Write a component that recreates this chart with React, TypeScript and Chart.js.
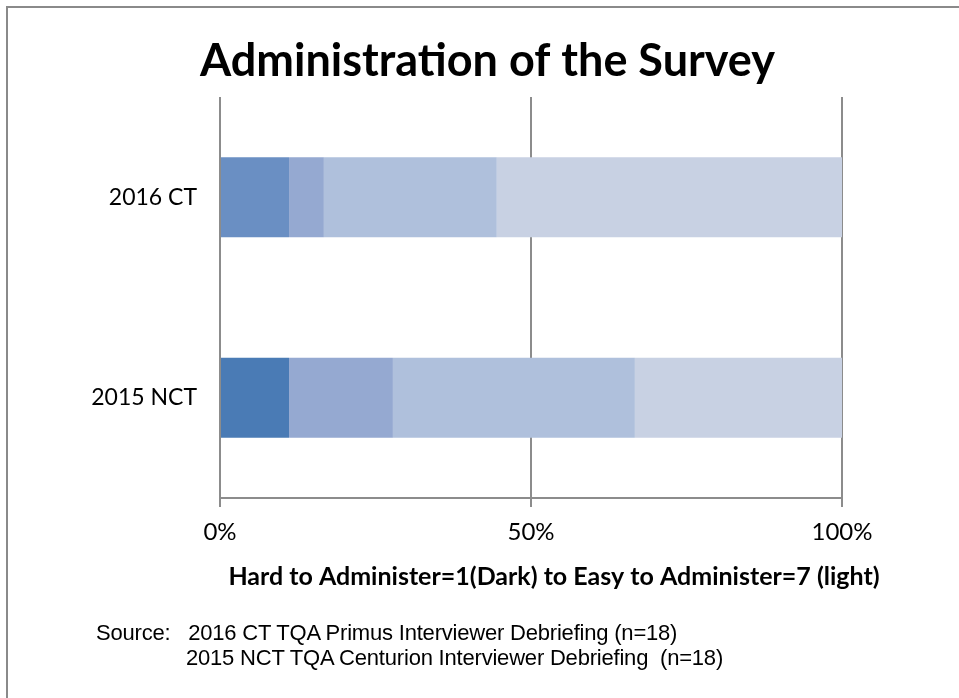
import React, { useEffect, useRef } from 'react';
import { Chart, registerables } from 'chart.js';

Chart.register(...registerables);

// ---- Data (percent of respondents, n=18 each) ----
const categories = ['2016 CT', '2015 NCT'];
const ratingLabels = ['1', '2', '3', '4', '5', '6', '7'];
const rating1 = [null, null];
const rating2 = [null, null];
const rating3 = [null, 11.1];
const rating4 = [11.1, null];
const rating5 = [5.6, 16.7];
const rating6 = [27.8, 38.9];
const rating7 = [55.5, 33.3];
const ratingSeries = [rating1, rating2, rating3, rating4, rating5, rating6, rating7];
const ratingColors = ['#1f4e8c', '#2f63a3', '#4a7bb5', '#6a8fc3', '#95a9d1', '#afc0dc', '#c8d1e3'];
const xTickValues = [0, 50, 100];
const titleText = 'Administration of the Survey';
const axisTitleText = 'Hard to Administer=1(Dark) to Easy to Administer=7 (light)';
const sourceLine1 = 'Source:   2016 CT TQA Primus Interviewer Debriefing (n=18)';
const sourceLine2 = '2015 NCT TQA Centurion Interviewer Debriefing  (n=18)';

const GRID = '#8c8c8c';
const FONT = 'Lato, "Open Sans", sans-serif';

const axisTitlePlugin = {
  id: 'shiftedAxisTitle',
  afterDraw(chart: any, _args: any, opts: any) {
    const { ctx, chartArea } = chart;
    ctx.save();
    ctx.font = opts.font;
    ctx.fillStyle = opts.color;
    ctx.textAlign = 'center';
    ctx.textBaseline = 'middle';
    ctx.fillText(
      opts.text,
      (chartArea.left + chartArea.right) / 2 + opts.offsetX,
      chartArea.bottom + opts.offsetY
    );
    ctx.restore();
  },
};

export default function App() {
  const ref = useRef<HTMLCanvasElement | null>(null);

  useEffect(() => {
    if (!ref.current) return;
    const chart = new Chart(ref.current, {
      type: 'bar',
      data: {
        labels: categories,
        datasets: ratingSeries.map((d, i) => ({
          label: ratingLabels[i],
          data: d as any,
          backgroundColor: ratingColors[i],
          borderWidth: 0,
          categoryPercentage: 1,
          barPercentage: 0.4,
        })),
      },
      plugins: [axisTitlePlugin],
      options: {
        indexAxis: 'y',
        responsive: false,
        animation: false,
        layout: { padding: { left: 16, right: 0, top: 0, bottom: 100 } },
        plugins: {
          legend: { display: false },
          tooltip: { enabled: false },
          title: {
            display: true,
            text: titleText,
            color: '#000',
            font: { family: FONT, size: 45, weight: 'bold', lineHeight: 1.2 },
            padding: { top: 34, bottom: 9 },
          },
          shiftedAxisTitle: {
            text: axisTitleText,
            font: `bold 25px ${FONT}`,
            color: '#000',
            offsetX: 23,
            offsetY: 79,
          },
        } as any,
        scales: {
          x: {
            type: 'linear',
            stacked: true,
            min: 0,
            max: 100,
            afterBuildTicks: (scale: any) => {
              scale.ticks = xTickValues.map((v) => ({ value: v }));
            },
            afterFit: (scale: any) => {
              scale.height = 100;
            },
            ticks: {
              color: '#000',
              font: { family: FONT, size: 24 },
              padding: 11,
              maxRotation: 0,
              callback: (v: any) => `${v}%`,
            },
            grid: {
              color: GRID,
              lineWidth: 2,
              drawTicks: true,
              tickLength: 9,
              tickColor: GRID,
            },
            border: { display: true, color: GRID, width: 2 },
          },
          y: {
            type: 'category',
            stacked: true,
            afterFit: (scale: any) => {
              scale.width = 204;
            },
            ticks: {
              color: '#000',
              font: { family: FONT, size: 23 },
              padding: 23,
            },
            grid: { display: false, drawTicks: false },
            border: { display: false },
          },
          yRight: {
            type: 'category',
            position: 'right',
            afterFit: (scale: any) => {
              scale.width = 117;
            },
            ticks: { display: false },
            grid: { display: false, drawTicks: false },
            border: { display: false },
          },
        },
      },
    });
    return () => chart.destroy();
  }, []);

  return (
    <div
      style={{
        position: 'absolute',
        left: 0,
        top: 0,
        width: 959,
        height: 698,
        overflow: 'hidden',
        background: '#fff',
      }}
    >
      <div
        style={{
          position: 'absolute',
          left: 6,
          top: 6,
          width: 1200,
          height: 1200,
          borderLeft: '2px solid #8a8a8a',
          borderTop: '2px solid #8a8a8a',
        }}
      />
      <canvas
        ref={ref}
        width={959}
        height={698}
        style={{ position: 'absolute', left: 0, top: 0, width: 959, height: 698 }}
      />
      <div
        style={{
          position: 'absolute',
          left: 96,
          top: 620,
          fontFamily: '"Liberation Sans", Arial, sans-serif',
          fontSize: 22,
          lineHeight: '25px',
          color: '#000',
          whiteSpace: 'pre',
          letterSpacing: '-0.2px',
        }}
      >
        <div>{sourceLine1}</div>
        <div style={{ paddingLeft: 90 }}>{sourceLine2}</div>
      </div>
    </div>
  );
}
